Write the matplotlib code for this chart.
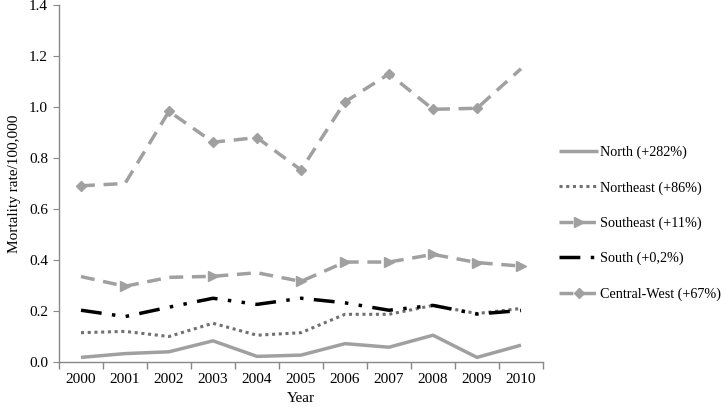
import matplotlib
matplotlib.use("Agg")
import matplotlib.pyplot as plt
import numpy as np

plt.rcParams['font.family'] = ['Liberation Serif', 'DejaVu Serif']

years = ["2000", "2001", "2002", "2003", "2004", "2005", "2006", "2007", "2008", "2009", "2010"]
north = [0.018, 0.033, 0.040, 0.083, 0.022, 0.027, 0.072, 0.058, 0.105, 0.018, 0.066]
northeast = [0.115, 0.120, 0.100, 0.152, 0.105, 0.115, 0.187, 0.187, 0.222, 0.190, 0.210]
southeast = [0.335, 0.297, 0.332, 0.336, 0.350, 0.316, 0.392, 0.392, 0.422, 0.390, 0.376]
south = [0.203, 0.178, 0.215, 0.250, 0.226, 0.250, 0.232, 0.203, 0.222, 0.188, 0.202]
central_west = [0.691, 0.700, 0.983, 0.862, 0.880, 0.753, 1.020, 1.130, 0.991, 0.995, 1.150]
labels = ["North (+282%)", "Northeast (+86%)", "Southeast (+11%)", "South (+0,2%)", "Central-West (+67%)"]

fig = plt.figure(figsize=(7.25, 4.07), dpi=100)
ax = fig.add_axes([59/725, 1-362/407, (543-59)/725, (362-5)/407])
x = np.arange(len(years))
gray = '#a0a0a0'
ax.plot(x, north, color=gray, lw=2.5, solid_capstyle='butt', label=labels[0])
ax.plot(x, northeast, color='#707070', lw=2.2, linestyle=(0, (1, 1.2)), label=labels[1])
ax.plot(x, southeast, color=gray, lw=2.5, linestyle=(0, (4, 2.5)), marker='>', markersize=7,
        markevery=[1, 3, 5, 6, 7, 8, 9, 10], label=labels[2])
ax.plot(x, south, color='black', lw=2.5, linestyle=(0, (6, 3, 1, 3, 1, 3)), label=labels[3])
ax.plot(x, central_west, color=gray, lw=2.5, linestyle=(0, (4, 2.5)), marker='D', markersize=5,
        markevery=[0, 2, 3, 4, 5, 6, 7, 8, 9], label=labels[4])

ax.set_xlim(-0.5, 10.5)
ax.set_ylim(0, 1.4)
ax.set_yticks(np.arange(0, 1.41, 0.2))
ax.set_yticklabels([f"{v:.1f}" for v in np.arange(0, 1.41, 0.2)])
ax.set_xticks(x)
ax.set_xticklabels(years)
ax.set_xticks(np.arange(-0.5, 10.6, 1), minor=True)
ax.tick_params(axis='x', which='major', length=0, pad=8, labelsize=11)
ax.tick_params(axis='x', which='minor', length=5, color='#888888', width=1)
ax.tick_params(axis='y', length=4, color='#888888', labelsize=11, pad=4)
for s in ['top', 'right']:
    ax.spines[s].set_visible(False)
for s in ['left', 'bottom']:
    ax.spines[s].set_color('#888888')
    ax.spines[s].set_linewidth(1)
ax.set_xlabel("Year", fontsize=11, labelpad=4)
ax.set_ylabel("Mortality rate/100,000", fontsize=11, labelpad=6)

handles, labs = ax.get_legend_handles_labels()
leg = fig.legend(handles, labs, loc='upper left', bbox_to_anchor=(553/725, 1-140/407),
                 frameon=False, fontsize=10.2, labelspacing=1.55, handlelength=2.8,
                 handletextpad=0.1, borderaxespad=0)
fig.savefig("out.png", dpi=100)
